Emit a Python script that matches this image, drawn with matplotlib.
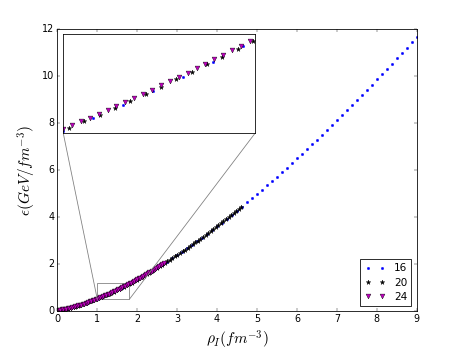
import matplotlib
matplotlib.use("Agg")
import matplotlib.pyplot as plt
from mpl_toolkits.axes_grid1.inset_locator import mark_inset

plt.style.use("classic")

labels = ["16", "20", "24"]

rho_16 = [0.000, 0.125, 0.250, 0.375, 0.500, 0.625, 0.750, 0.875, 1.000, 1.125,
          1.250, 1.375, 1.500, 1.625, 1.750, 1.875, 2.000, 2.125, 2.250, 2.375,
          2.500, 2.625, 2.750, 2.875, 3.000, 3.125, 3.250, 3.375, 3.500, 3.625,
          3.750, 3.875, 4.000, 4.125, 4.250, 4.375, 4.500, 4.625, 4.750, 4.875,
          5.000, 5.125, 5.250, 5.375, 5.500, 5.625, 5.750, 5.875, 6.000, 6.125,
          6.250, 6.375, 6.500, 6.625, 6.750, 6.875, 7.000, 7.125, 7.250, 7.375,
          7.500, 7.625, 7.750, 7.875, 8.000, 8.125, 8.250, 8.375, 8.500, 8.625,
          8.750, 8.875, 9.000]
eps_16 = [0.035, 0.062, 0.105, 0.157, 0.217, 0.284, 0.357, 0.435, 0.519, 0.607,
          0.701, 0.798, 0.899, 1.005, 1.114, 1.226, 1.343, 1.462, 1.585, 1.711,
          1.841, 1.973, 2.108, 2.246, 2.387, 2.531, 2.678, 2.827, 2.979, 3.133,
          3.290, 3.449, 3.611, 3.775, 3.942, 4.111, 4.282, 4.455, 4.631, 4.809,
          4.989, 5.171, 5.356, 5.542, 5.731, 5.921, 6.114, 6.308, 6.505, 6.703,
          6.903, 7.105, 7.309, 7.514, 7.720, 7.928, 8.137, 8.349, 8.561, 8.776,
          8.991, 9.209, 9.427, 9.648, 9.868, 10.092, 10.316, 10.542, 10.769, 10.998,
          11.228, 11.459, 11.691]

rho_20 = [0.000, 0.064, 0.128, 0.192, 0.256, 0.320, 0.384, 0.448, 0.512, 0.576,
          0.640, 0.704, 0.768, 0.832, 0.896, 0.960, 1.024, 1.088, 1.152, 1.216,
          1.280, 1.344, 1.408, 1.472, 1.536, 1.600, 1.664, 1.728, 1.792, 1.856,
          1.920, 1.984, 2.048, 2.112, 2.176, 2.240, 2.304, 2.368, 2.432, 2.496,
          2.560, 2.624, 2.688, 2.752, 2.816, 2.880, 2.944, 3.008, 3.072, 3.136,
          3.200, 3.264, 3.328, 3.392, 3.456, 3.520, 3.584, 3.648, 3.712, 3.776,
          3.840, 3.904, 3.968, 4.032, 4.096, 4.160, 4.224, 4.288, 4.352, 4.416,
          4.480, 4.544, 4.608]
eps_20 = [0.040, 0.051, 0.068, 0.089, 0.112, 0.138, 0.166, 0.196, 0.228, 0.262,
          0.297, 0.334, 0.373, 0.413, 0.454, 0.497, 0.541, 0.586, 0.632, 0.680,
          0.728, 0.778, 0.829, 0.881, 0.934, 0.988, 1.043, 1.099, 1.156, 1.214,
          1.273, 1.333, 1.393, 1.455, 1.517, 1.580, 1.644, 1.709, 1.775, 1.841,
          1.909, 1.977, 2.046, 2.115, 2.186, 2.257, 2.329, 2.402, 2.475, 2.549,
          2.624, 2.699, 2.775, 2.852, 2.930, 3.008, 3.087, 3.167, 3.247, 3.328,
          3.409, 3.492, 3.574, 3.658, 3.742, 3.827, 3.912, 3.998, 4.084, 4.172,
          4.259, 4.348, 4.437]

rho_24 = [0.000, 0.037, 0.074, 0.111, 0.148, 0.185, 0.222, 0.259, 0.296, 0.333,
          0.370, 0.407, 0.444, 0.481, 0.519, 0.556, 0.593, 0.630, 0.667, 0.704,
          0.741, 0.778, 0.815, 0.852, 0.889, 0.926, 0.963, 1.000, 1.037, 1.074,
          1.111, 1.148, 1.185, 1.222, 1.259, 1.296, 1.333, 1.370, 1.407, 1.444,
          1.481, 1.519, 1.556, 1.593, 1.630, 1.667, 1.704, 1.741, 1.778, 1.815,
          1.852, 1.889, 1.926, 1.963, 2.000, 2.037, 2.074, 2.111, 2.148, 2.185,
          2.222, 2.259, 2.296, 2.333, 2.370, 2.407, 2.444, 2.481, 2.519, 2.556,
          2.593, 2.630, 2.667]
eps_24 = [0.050, 0.056, 0.064, 0.073, 0.084, 0.096, 0.109, 0.123, 0.138, 0.154,
          0.170, 0.187, 0.204, 0.223, 0.241, 0.261, 0.281, 0.301, 0.323, 0.344,
          0.366, 0.389, 0.412, 0.435, 0.459, 0.484, 0.509, 0.534, 0.560, 0.586,
          0.612, 0.639, 0.667, 0.694, 0.723, 0.751, 0.780, 0.809, 0.839, 0.869,
          0.899, 0.930, 0.961, 0.992, 1.024, 1.056, 1.088, 1.120, 1.153, 1.187,
          1.220, 1.254, 1.288, 1.323, 1.358, 1.393, 1.428, 1.464, 1.500, 1.536,
          1.573, 1.609, 1.647, 1.684, 1.722, 1.760, 1.798, 1.836, 1.875, 1.914,
          1.953, 1.993, 2.033]

series = [(rho_16, eps_16, "b."), (rho_20, eps_20, "k*"), (rho_24, eps_24, "mv")]

fig = plt.figure(figsize=(463 / 58.0, 350 / 58.0), dpi=58)
ax = fig.add_axes([0.124, 0.111, 0.776, 0.805])

for (x, y, fmt), lab in zip(series, labels):
    ax.plot(x, y, fmt, label=lab)

ax.set_xlim(0, 9)
ax.set_ylim(0, 12)
ax.set_xlabel(r"$\rho_I(fm^{-3})$", fontsize=19)
ax.set_ylabel(r"$\epsilon(GeV/fm^{-3})$", fontsize=19)
ax.legend(loc="lower right", fontsize=13, labelspacing=0.4)

# zoomed inset
axins = fig.add_axes([0.1367, 0.619, 0.414, 0.283])
for x, y, fmt in series:
    axins.plot(x, y, fmt)
axins.set_xlim(1.0, 1.8)
axins.set_ylim(0.5, 1.2)
axins.set_xticks([])
axins.set_yticks([])
mark_inset(ax, axins, loc1=3, loc2=4, fc="none", ec="0.5")

fig.savefig("out.png", dpi=58)
